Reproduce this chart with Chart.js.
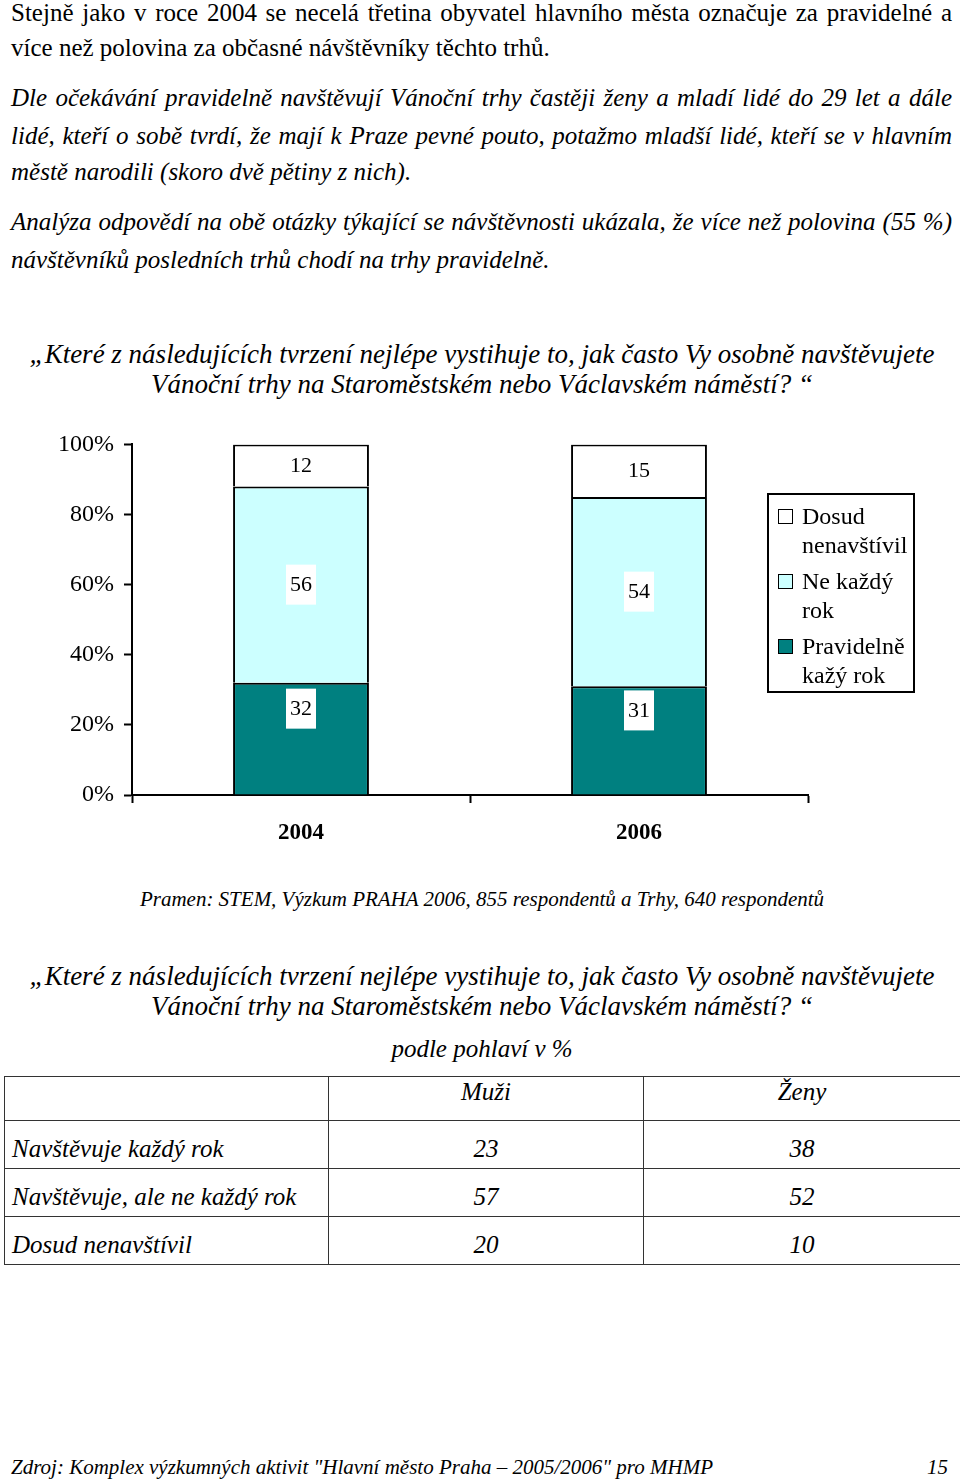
<!DOCTYPE html>
<html>
<head>
<meta charset="utf-8">
<script src="https://cdn.jsdelivr.net/npm/chart.js@4"></script>
<style>
  html, body { margin: 0; padding: 0; background: #fff; }
  body { width: 960px; height: 1482px; position: relative; overflow: hidden;
         font-family: "Liberation Serif", "Times New Roman", serif; color: #000; }
  .ln { position: absolute; left: 11px; width: 941px; height: 36px; line-height: 36px;
        font-size: 25px; white-space: nowrap; }
  .just { text-align: justify; text-align-last: justify; }
  .it { font-style: italic; }
  .ctr { text-align: center; left: 0; width: 964px; }
  .q { font-size: 27px; }
  #legend { position: absolute; left: 767px; top: 493px; width: 144px; height: 196px;
            border: 2px solid #000; font-size: 24px; line-height: 29px; padding: 0; }
  .lg-item { position: relative; padding-left: 33px; margin-top: 7px; width: 110px; }
  .lg-box { position: absolute; left: 9px; top: 7px; width: 13px; height: 13px; border: 1px solid #000; }
  table { position: absolute; left: 4px; top: 1076px; width: 956px; border-collapse: collapse;
          table-layout: fixed; font-style: italic; font-size: 25px; }
  td { border: 1.5px solid #333; padding: 0 7px; }
  td.num { text-align: center; }
</style>
</head>
<body>
<div id="texts"></div>
<canvas id="visitChart" width="960" height="440" style="position:absolute;left:0;top:420px;"></canvas>
<div id="legend"></div>
<table id="sexTable"></table>

<script>
// data
const years = ['2004', '2006'];
const regularEveryYear = [32, 31];
const notEveryYear = [56, 54];
const neverVisited = [12, 15];
const seriesNames = ['Pravidelně kažý rok', 'Ne každý rok', 'Dosud nenavštívil'];
const seriesColors = ['#008080', '#CCFFFF', '#FFFFFF'];
const yTickValues = [0, 20, 40, 60, 80, 100];

const tableHead = ['Muži', 'Ženy'];
const tableRowNames = ['Navštěvuje každý rok', 'Navštěvuje, ale ne každý rok', 'Dosud nenavštívil'];
const menValues = [23, 57, 20];
const womenValues = [38, 52, 10];

const questionLines = [
  '„Které z následujících tvrzení nejlépe vystihuje to, jak často Vy osobně navštěvujete',
  'Vánoční trhy na Staroměstském nebo Václavském náměstí? “'
];

// text of the page: [text, centre y, class]
const pageLines = [
  ['Stejně jako  v roce 2004 se necelá třetina obyvatel hlavního města označuje za pravidelné a', 13, 'just'],
  ['více než polovina za občasné návštěvníky těchto trhů.', 48, ''],
  ['Dle očekávání pravidelně navštěvují Vánoční trhy častěji ženy a mladí lidé do 29 let a dále', 98, 'just it'],
  ['lidé, kteří o sobě tvrdí, že mají k Praze pevné pouto, potažmo mladší lidé, kteří se v hlavním', 136, 'just it'],
  ['městě narodili (skoro dvě pětiny z nich).', 172, 'it'],
  ['Analýza odpovědí na obě otázky týkající se návštěvnosti ukázala, že více než polovina (55 %)', 222, 'just it'],
  ['návštěvníků posledních trhů chodí na trhy pravidelně.', 260, 'it'],
  [questionLines[0], 354, 'it ctr q'],
  [questionLines[1], 384, 'it ctr q'],
  ['Pramen: STEM, Výzkum PRAHA 2006, 855 respondentů a Trhy, 640 respondentů', 899, 'it ctr src'],
  [questionLines[0], 976, 'it ctr q'],
  [questionLines[1], 1006, 'it ctr q'],
  ['podle pohlaví v %', 1049, 'it ctr'],
  ['Zdroj: Komplex výzkumných aktivit "Hlavní město Praha – 2005/2006" pro MHMP', 1467, 'it foot'],
];

const textBox = document.getElementById('texts');
pageLines.forEach(function(l) {
  const d = document.createElement('div');
  d.className = 'ln ' + l[2];
  d.style.top = (l[1] - 18) + 'px';
  d.textContent = l[0];
  if (l[2].indexOf('src') >= 0) d.style.fontSize = '21px';
  if (l[2].indexOf('foot') >= 0) d.style.fontSize = '21px';
  textBox.appendChild(d);
});
const pg = document.createElement('div');
pg.className = 'ln it';
pg.style.cssText = 'top:1449px;left:900px;width:48px;text-align:right;font-size:21px;';
pg.textContent = '15';
textBox.appendChild(pg);

// table
const tbl = document.getElementById('sexTable');
let html = '<colgroup><col style="width:324px"><col style="width:315px"><col style="width:317px"></colgroup>';
html += '<tr style="height:44px"><td></td>';
tableHead.forEach(function(h) { html += '<td class="num" style="vertical-align:top;line-height:30px">' + h + '</td>'; });
html += '</tr>';
tableRowNames.forEach(function(name, i) {
  const cs = 'vertical-align:bottom;padding-bottom:4px;line-height:30px';
  html += '<tr style="height:48px"><td style="' + cs + '">' + name +
          '</td><td class="num" style="' + cs + '">' + menValues[i] +
          '</td><td class="num" style="' + cs + '">' + womenValues[i] + '</td></tr>';
});
tbl.innerHTML = html;

// legend, same order as in the picture (top series first)
const legendEl = document.getElementById('legend');
for (let i = seriesNames.length - 1; i >= 0; i--) {
  const it = document.createElement('div');
  it.className = 'lg-item';
  it.innerHTML = '<span class="lg-box" style="background:' + seriesColors[i] + '"></span>' + seriesNames[i];
  legendEl.appendChild(it);
}

// labels in white boxes on the bars
const labelOffsets = [-30, 0, 0];
const boxLabels = {
  id: 'boxLabels',
  afterDatasetsDraw(chart) {
    const ctx = chart.ctx;
    ctx.save();
    ctx.font = '22px "Liberation Serif"';
    ctx.textAlign = 'center';
    ctx.textBaseline = 'middle';
    chart.data.datasets.forEach(function(ds, di) {
      chart.getDatasetMeta(di).data.forEach(function(bar, i) {
        const p = bar.getProps(['x', 'y', 'base'], true);
        const cy = (p.y + p.base) / 2 + labelOffsets[di];
        const txt = String(ds.data[i]);
        const w = ctx.measureText(txt).width + 8;
        // keep the box inside the segment so it does not cut the bar outline
        const top = Math.max(cy - 20, Math.min(p.y, p.base) + 3);
        const bottom = Math.min(cy + 20, Math.max(p.y, p.base) - 1);
        ctx.fillStyle = '#fff';
        ctx.fillRect(p.x - w / 2, top, w, bottom - top);
        ctx.fillStyle = '#000';
        ctx.fillText(txt, p.x, cy + 1);
      });
    });
    ctx.restore();
  }
};

const datasets = [regularEveryYear, notEveryYear, neverVisited].map(function(vals, i) {
  return {
    label: seriesNames[i],
    data: vals,
    backgroundColor: seriesColors[i],
    borderColor: '#000',
    borderWidth: { left: 2, right: 2, top: 2, bottom: 0 },
    borderSkipped: false,
    barPercentage: 0.402,
    categoryPercentage: 1,
  };
});

new Chart(document.getElementById('visitChart'), {
  type: 'bar',
  data: { labels: years, datasets: datasets },
  plugins: [boxLabels],
  options: {
    responsive: false,
    animation: false,
    devicePixelRatio: 1,
    layout: { padding: { left: 0, right: 152, top: 21, bottom: 0 } },
    plugins: { legend: { display: false }, tooltip: { enabled: false } },
    scales: {
      x: {
        stacked: true,
        afterFit: function(scale) { scale.height = 65; },
        border: { display: true, color: '#000', width: 2 },
        grid: { display: true, offset: true, drawOnChartArea: false, drawTicks: true,
                tickLength: 8, tickColor: '#000', tickWidth: 2 },
        ticks: { color: '#000', padding: 16, font: { family: 'Liberation Serif', size: 23, weight: 'bold' } }
      },
      y: {
        stacked: true,
        min: 0,
        max: 100,
        afterFit: function(scale) { scale.width = 132; },
        afterBuildTicks: function(scale) { scale.ticks = yTickValues.map(function(v) { return { value: v }; }); },
        border: { display: true, color: '#000', width: 2 },
        grid: { drawOnChartArea: false, drawTicks: true, tickLength: 8, tickColor: '#000', tickWidth: 2 },
        ticks: {
          color: '#000', padding: 10,
          font: { family: 'Liberation Serif', size: 24 },
          callback: function(value) { return value + '%'; }
        }
      }
    }
  }
});
</script>
</body>
</html>
